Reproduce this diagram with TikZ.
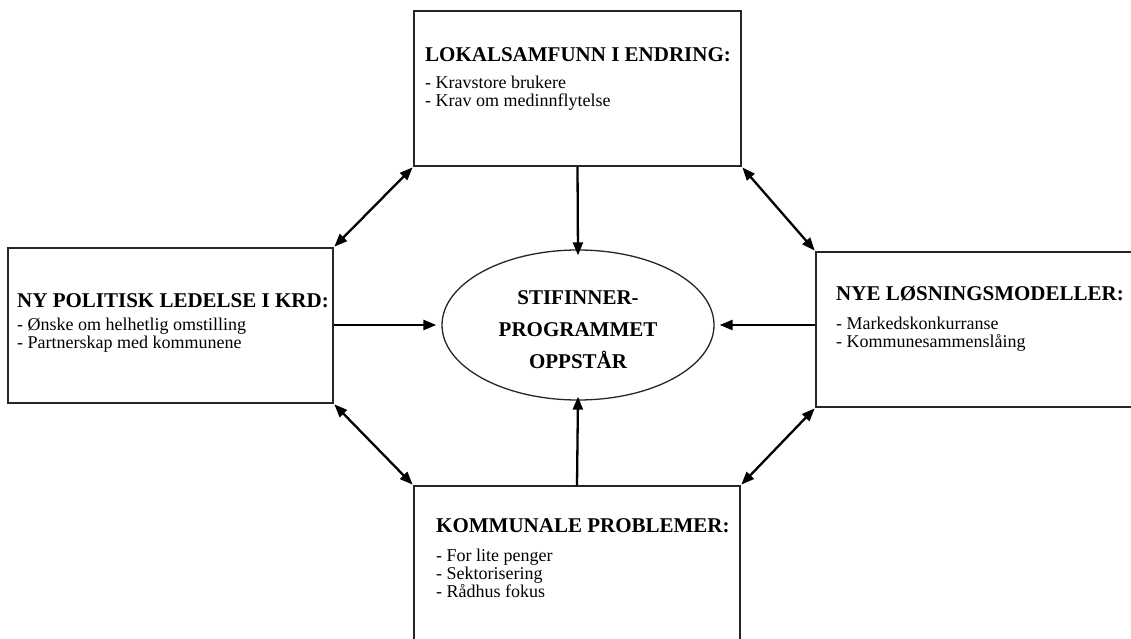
\documentclass[tikz,border=0pt]{standalone}
\usepackage{fontspec}
\setmainfont{Liberation Serif}
\usetikzlibrary{arrows.meta,shapes.geometric}
\begin{document}
\begin{tikzpicture}[x=1pt,y=-1pt,
  box/.style={draw=black!85,line width=1.3pt,rectangle,inner sep=0pt},
  ttl/.style={anchor=base west,inner sep=0pt,font=\fontsize{21}{24}\selectfont\bfseries},
  itm/.style={anchor=base west,inner sep=0pt,align=left,font=\fontsize{18}{18}\selectfont},
  arr/.style={line width=2.3pt,-{Triangle[length=13pt,width=10pt]}},
  darr/.style={line width=2.3pt,{Triangle[length=13pt,width=10pt]}-{Triangle[length=13pt,width=10pt]},shorten <=1pt,shorten >=1pt}]
\useasboundingbox (0,0) rectangle (1131,639);
\clip (0,0) rectangle (1131,639);
% boxes
\node[box,minimum width=327pt,minimum height=155pt] (top) at (577.5,88.5) {};
\node[box,minimum width=325pt,minimum height=155pt] (left) at (170.5,325.5) {};
\node[box,minimum width=330pt,minimum height=155pt] (right) at (981,329.5) {};
\node[box,minimum width=326pt,minimum height=170pt] (bot) at (577,571) {};
\node[draw=black!85,line width=1.3pt,ellipse,minimum width=272pt,minimum height=150pt,inner sep=0pt] (ell) at (578,325) {};
% texts
\node[ttl] (t1) at (425,62) {LOKALSAMFUNN I ENDRING:};
\node[itm] (i1) at (425,107) {- Kravstore brukere\\- Krav om medinnflytelse};
\node[ttl] (t2) at (17,307) {NY POLITISK LEDELSE I KRD:};
\node[itm] (i2) at (17,348) {- Ønske om helhetlig omstilling\\- Partnerskap med kommunene};
\node[ttl] (t3) at (836,300) {NYE LØSNINGSMODELLER:};
\node[itm] (i3) at (836,347) {- Markedskonkurranse\\- Kommunesammenslåing};
\node[ttl] (t4) at (436,532) {KOMMUNALE PROBLEMER:};
\node[itm] (i4) at (436,597) {- For lite penger\\- Sektorisering\\- Rådhus fokus};
\node[align=center,inner sep=0pt,font=\fontsize{21}{32}\selectfont\bfseries] (ct) at (578,330) {STIFINNER-\\PROGRAMMET\\OPPSTÅR};
% connectors
\draw[arr] (top.south) -- ([yshift=-6pt]ell.north);
\draw[arr] (bot.north) -- ([yshift=4pt]ell.south);
\draw[arr] (left.east |- ell.west) -- ([xshift=-5pt]ell.west);
\draw[arr] (right.west |- ell.east) -- ([xshift=5pt]ell.east);
\draw[darr] (top.south west) -- (left.north east);
\draw[darr] (top.south east) -- (right.north west);
\draw[darr] (left.south east) -- (bot.north west);
\draw[darr] (right.south west) -- (bot.north east);
\end{tikzpicture}
\end{document}
